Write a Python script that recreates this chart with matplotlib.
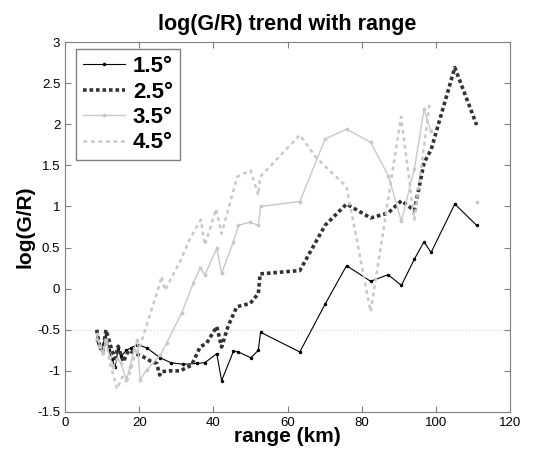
import numpy as np
import matplotlib
matplotlib.use("Agg")
import matplotlib.pyplot as plt

plt.rcParams['font.family'] = ['Liberation Sans', 'DejaVu Sans']

# range (km) and log(G/R) per elevation angle
x_15 = [8.5, 9.3, 10.2, 11.0, 11.8, 12.6, 13.5, 14.3, 15.2, 16.5, 17.8, 19.5, 22.0,
        25.6, 28.5, 31.9, 35.5, 37.7, 40.9, 42.2, 45.4, 46.7, 50.1, 52.1, 52.7,
        63.3, 70.1, 75.9, 82.4, 87.1, 90.7, 94.2, 96.8, 98.7, 105.1, 111.0]
y_15 = [-0.62, -0.72, -0.68, -0.55, -0.75, -0.85, -0.95, -0.72, -0.82, -0.75, -0.72, -0.68, -0.72,
        -0.84, -0.90, -0.92, -0.91, -0.90, -0.79, -1.12, -0.76, -0.77, -0.84, -0.75, -0.53,
        -0.77, -0.19, 0.28, 0.09, 0.17, 0.04, 0.36, 0.57, 0.44, 1.03, 0.77]

x_25 = [8.5, 9.3, 10.2, 11.0, 11.8, 12.6, 13.5, 14.3, 15.7, 17.1, 18.9, 21.1, 23.0,
        24.7, 25.5, 26.0, 28.0, 31.0, 34.1, 36.4, 38.2, 40.9, 42.2, 44.0, 46.3, 49.9,
        52.1, 52.6, 63.3, 70.1, 75.9, 82.4, 87.1, 90.7, 94.2, 96.8, 98.7, 105.1, 111.0]
y_25 = [-0.50, -0.70, -0.75, -0.50, -0.62, -0.75, -0.85, -0.70, -0.89, -0.75, -0.79, -0.83, -0.88,
        -0.91, -1.05, -1.01, -1.00, -1.00, -0.93, -0.71, -0.66, -0.46, -0.71, -0.45, -0.22, -0.18,
        -0.06, 0.18, 0.22, 0.77, 1.03, 0.86, 0.92, 1.07, 0.95, 1.53, 1.69, 2.69, 1.99]

x_35 = [8.5, 9.3, 10.2, 11.0, 12.0, 13.0, 14.0, 15.0, 16.5, 17.5, 18.5, 19.5, 20.2,
        22.0, 25.6, 27.4, 31.4, 34.6, 36.4, 37.7, 40.9, 42.2, 45.4, 46.7, 49.9, 52.1,
        52.7, 63.3, 70.1, 75.9, 82.4, 87.2, 90.7, 94.2, 96.8, 98.6, np.nan, 111.0]
y_35 = [-0.55, -0.70, -0.78, -0.62, -0.83, -0.95, -0.85, -0.90, -1.11, -0.95, -0.75, -0.62, -1.11,
        -0.99, -0.81, -0.66, -0.30, 0.07, 0.25, 0.17, 0.49, 0.19, 0.57, 0.77, 0.81, 0.77,
        1.00, 1.06, 1.82, 1.94, 1.78, 1.37, 0.82, 1.46, 2.18, 1.92, np.nan, 1.06]

x_45 = [8.5, 9.3, 10.2, 11.0, 12.0, 13.0, 14.0, 15.7, 17.0, 18.5, 20.2, 25.6, 26.0,
        26.9, 31.0, 33.7, 36.6, 37.7, 40.7, 42.2, 46.4, 50.0, 52.1, 52.6, 63.3, 67.8,
        75.9, 82.4, 90.6, 94.2, 98.4]
y_45 = [-0.60, -0.72, -0.80, -0.60, -0.90, -1.05, -1.22, -1.05, -1.10, -0.85, -0.70, 0.07, 0.15,
        -0.02, 0.33, 0.61, 0.84, 0.53, 0.97, 0.67, 1.36, 1.44, 1.14, 1.36, 1.87, 1.59,
        1.24, -0.28, 2.09, 0.84, 2.28]

labels = ['1.5°', '2.5°', '3.5°', '4.5°']

fig = plt.figure(figsize=(5.52, 4.57), dpi=100)
ax = fig.add_axes([0.118, 0.0985, 0.806, 0.8095])

ax.axhline(-0.5, color='#d6d6d6', linestyle=':', linewidth=0.8, zorder=0)

ax.plot(x_15, y_15, color='black', linewidth=0.8, marker='.', markersize=3, label=labels[0])
ax.plot(x_25, y_25, color='#333333', linewidth=2.6, linestyle=(0, (1, 0.8)), label=labels[1])
ax.plot(x_35, y_35, color='#c8c8c8', linewidth=1.0, marker='.', markersize=3.5, label=labels[2])
ax.plot(x_45, y_45, color='#c8c8c8', linewidth=1.8, linestyle=(0, (1.5, 1.5)), label=labels[3])

ax.set_xlim(0, 120)
ax.set_ylim(-1.5, 3)
ax.set_xticks(np.arange(0, 121, 20))
ax.set_yticks(np.arange(-1.5, 3.01, 0.5))
ax.set_yticklabels(['-1.5', '-1', '-0.5', '0', '0.5', '1', '1.5', '2', '2.5', '3'])
ax.tick_params(direction='in', top=True, right=True, length=4, labelsize=9.5, color='#808080')
for sp in ax.spines.values():
    sp.set_color('#808080')

ax.set_title('log(G/R) trend with range', fontsize=15.5, fontweight='bold', pad=9)
ax.set_xlabel('range (km)', fontsize=15, fontweight='bold', labelpad=-1)
ax.set_ylabel('log(G/R)', fontsize=15, fontweight='bold', labelpad=2)

leg = ax.legend(loc='upper left', bbox_to_anchor=(0.025, 0.98),
                prop={'size': 16, 'weight': 'bold'}, handlelength=1.9,
                fancybox=False, framealpha=1, edgecolor='#808080', borderaxespad=0.0,
                labelspacing=0.2, handletextpad=0.35, borderpad=0.3)
leg.get_frame().set_linewidth(1.0)

fig.savefig('out.png', dpi=100)
